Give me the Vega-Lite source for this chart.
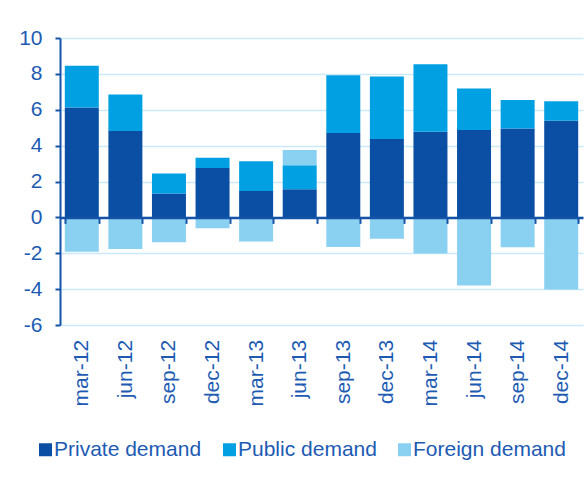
{
  "$schema": "https://vega.github.io/schema/vega-lite/v6.json",
  "width": 523,
  "height": 287,
  "autosize": {"type": "none"},
  "padding": {"left": 60, "top": 38, "right": 5, "bottom": 162},
  "background": "white",
  "config": {
    "font": "Liberation Sans",
    "view": {"stroke": null}
  },
  "data": {
    "values": [
      {"period": "mar-12", "component": "Private demand", "ord": 1, "value": 6.12},
      {"period": "mar-12", "component": "Public demand", "ord": 2, "value": 2.33},
      {"period": "mar-12", "component": "Foreign demand", "ord": 3, "value": -1.91},
      {"period": "jun-12", "component": "Private demand", "ord": 1, "value": 4.82},
      {"period": "jun-12", "component": "Public demand", "ord": 2, "value": 2.03},
      {"period": "jun-12", "component": "Foreign demand", "ord": 3, "value": -1.76},
      {"period": "sep-12", "component": "Private demand", "ord": 1, "value": 1.33},
      {"period": "sep-12", "component": "Public demand", "ord": 2, "value": 1.12},
      {"period": "sep-12", "component": "Foreign demand", "ord": 3, "value": -1.39},
      {"period": "dec-12", "component": "Private demand", "ord": 1, "value": 2.75},
      {"period": "dec-12", "component": "Public demand", "ord": 2, "value": 0.57},
      {"period": "dec-12", "component": "Foreign demand", "ord": 3, "value": -0.61},
      {"period": "mar-13", "component": "Private demand", "ord": 1, "value": 1.47},
      {"period": "mar-13", "component": "Public demand", "ord": 2, "value": 1.66},
      {"period": "mar-13", "component": "Foreign demand", "ord": 3, "value": -1.35},
      {"period": "jun-13", "component": "Private demand", "ord": 1, "value": 1.57},
      {"period": "jun-13", "component": "Public demand", "ord": 2, "value": 1.34},
      {"period": "jun-13", "component": "Foreign demand", "ord": 3, "value": 0.85},
      {"period": "sep-13", "component": "Private demand", "ord": 1, "value": 4.71},
      {"period": "sep-13", "component": "Public demand", "ord": 2, "value": 3.22},
      {"period": "sep-13", "component": "Foreign demand", "ord": 3, "value": -1.65},
      {"period": "dec-13", "component": "Private demand", "ord": 1, "value": 4.37},
      {"period": "dec-13", "component": "Public demand", "ord": 2, "value": 3.49},
      {"period": "dec-13", "component": "Foreign demand", "ord": 3, "value": -1.19},
      {"period": "mar-14", "component": "Private demand", "ord": 1, "value": 4.78},
      {"period": "mar-14", "component": "Public demand", "ord": 2, "value": 3.76},
      {"period": "mar-14", "component": "Foreign demand", "ord": 3, "value": -2.02},
      {"period": "jun-14", "component": "Private demand", "ord": 1, "value": 4.87},
      {"period": "jun-14", "component": "Public demand", "ord": 2, "value": 2.31},
      {"period": "jun-14", "component": "Foreign demand", "ord": 3, "value": -3.80},
      {"period": "sep-14", "component": "Private demand", "ord": 1, "value": 4.96},
      {"period": "sep-14", "component": "Public demand", "ord": 2, "value": 1.59},
      {"period": "sep-14", "component": "Foreign demand", "ord": 3, "value": -1.67},
      {"period": "dec-14", "component": "Private demand", "ord": 1, "value": 5.39},
      {"period": "dec-14", "component": "Public demand", "ord": 2, "value": 1.09},
      {"period": "dec-14", "component": "Foreign demand", "ord": 3, "value": -4.02}
    ]
  },
  "mark": {"type": "bar"},
  "encoding": {
    "x": {
      "field": "period",
      "type": "nominal",
      "sort": null,
      "scale": {"paddingInner": 0.22, "paddingOuter": 0.11},
      "axis": {
        "title": null,
        "orient": "bottom",
        "offset": -107.6,
        "zindex": 1,
        "domain": true,
        "domainColor": "#1553a8",
        "domainWidth": 2.5,
        "ticks": true,
        "tickBand": "extent",
        "tickColor": "#1553a8",
        "tickWidth": 2,
        "tickSize": 6,
        "labelAngle": -90,
        "labelAlign": "right",
        "labelBaseline": "middle",
        "labelPadding": 116,
        "labelFontSize": 21,
        "labelColor": "#1d5bb3",
        "grid": false
      }
    },
    "y": {
      "field": "value",
      "type": "quantitative",
      "stack": "zero",
      "scale": {"domain": [-6, 10], "nice": false, "zero": false},
      "axis": {
        "title": null,
        "values": [-6, -4, -2, 0, 2, 4, 6, 8, 10],
        "labelExpr": "'' + datum.value",
        "grid": true,
        "gridColor": "#cbe9f8",
        "gridWidth": 1.5,
        "domain": true,
        "domainColor": "#1553a8",
        "domainWidth": 2,
        "ticks": true,
        "tickColor": "#1553a8",
        "tickWidth": 2,
        "tickSize": 5,
        "labelPadding": 13,
        "labelFontSize": 21,
        "labelColor": "#1d5bb3"
      }
    },
    "color": {
      "field": "component",
      "type": "nominal",
      "scale": {
        "domain": ["Private demand", "Public demand", "Foreign demand"],
        "range": ["#0a4fa3", "#00a0e3", "#8ad0f1"]
      },
      "legend": {
        "title": null,
        "orient": "none",
        "direction": "horizontal",
        "padding": 0,
        "legendX": -25,
        "legendY": 401,
        "symbolType": "square",
        "symbolSize": 169,
        "symbolStrokeWidth": 0,
        "labelFontSize": 21,
        "labelColor": "#1d5bb3",
        "labelOffset": -2,
        "columnPadding": 17
      }
    },
    "order": {"field": "ord", "type": "quantitative"}
  }
}
